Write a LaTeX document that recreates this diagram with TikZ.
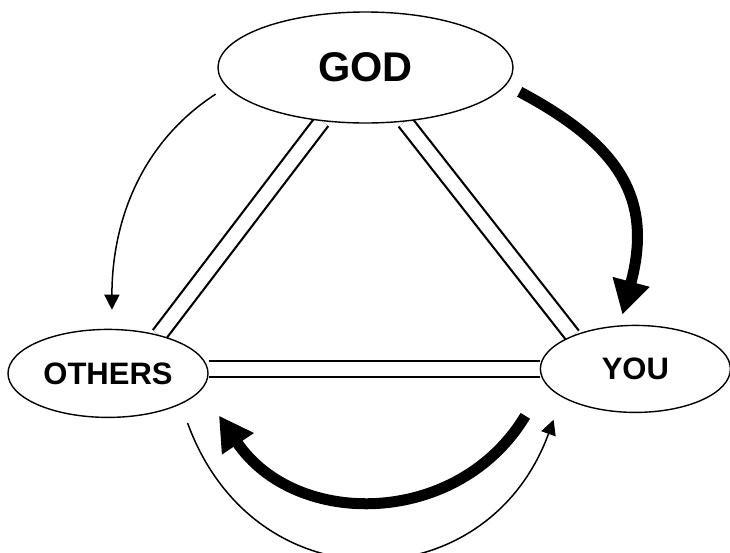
\documentclass[tikz,border=0pt]{standalone}
\usepackage{fontspec}
\setmainfont{Liberation Sans}
\usetikzlibrary{shapes.geometric,arrows.meta,positioning,backgrounds}

\begin{document}
\begin{tikzpicture}[x=1pt,y=1pt,
  ell/.style={draw,ellipse,line width=1.4pt,fill=white,inner sep=0pt},
  bond/.style={line width=2.2pt,double,double distance=13.5pt},
  heavy/.style={-{Triangle[length=34pt,width=36pt]},line width=11pt},
  lite/.style={-{Triangle[length=15pt,width=15pt]},line width=1.5pt}]
\useasboundingbox (0,0) rectangle (730,-552);
\node[ell,minimum width=295pt,minimum height=111pt,font=\bfseries\fontsize{41.5}{45}\selectfont] (god) at (365.5,-67.5) {GOD};
\node[ell,minimum width=200pt,minimum height=88pt,font=\bfseries\fontsize{31}{34}\selectfont,below=205pt of god,xshift=-257.5pt] (others) {OTHERS};
\node[ell,minimum width=190pt,minimum height=87pt,font=\bfseries\fontsize{31}{34}\selectfont,right=331pt of others,yshift=4.5pt] (you) {YOU};
\begin{scope}[on background layer]
\draw[bond] (god.231.3) -- (others.37);
\draw[bond] (god.306.4) -- (you.152.3);
\draw[bond] (you.west -| others.east) -- (you.west);
\end{scope}
\draw[heavy,shorten <=15pt,shorten >=11pt] (god.-7) to[out=-28,in=75,looseness=1.25] (you.110);
\draw[lite,shorten <=13pt,shorten >=19pt] (god.188) to[out=213,in=90] (others.85);
\draw[heavy,shorten <=38pt,shorten >=31pt] (you.189) to[out=239,in=-56,looseness=1.25] (others.-10);
\draw[lite,shorten <=20pt,shorten >=24pt] (others.-23) to[out=-70,in=-110,looseness=1.45] (you.201);
\end{tikzpicture}
\end{document}
